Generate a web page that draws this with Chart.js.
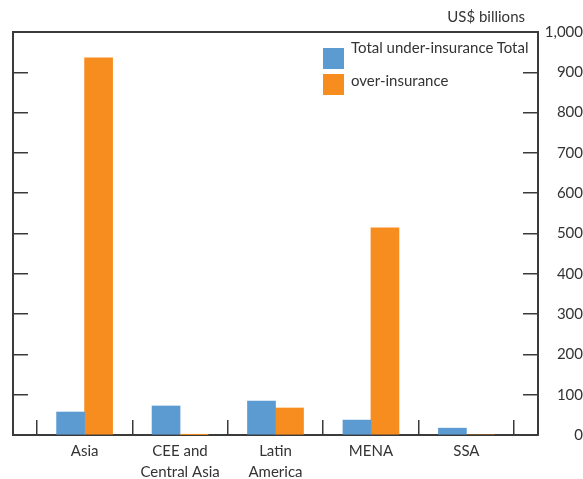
<!DOCTYPE html>
<html>
<head>
<meta charset="utf-8">
<script src="https://cdn.jsdelivr.net/npm/chart.js@4.4.1/dist/chart.umd.min.js"></script>
<style>
    html, body { margin: 0; padding: 0; background: #fff; }
    #wrap { position: relative; width: 583px; height: 479px; font-family: Lato, sans-serif; color: #333; }
    #unit { position: absolute; right: 58px; top: 7px; font-size: 15px; }
    .lg-box { position: absolute; left: 323px; width: 21px; height: 21px; }
    .lg-text { position: absolute; left: 351px; font-size: 15px; line-height: 20px; white-space: nowrap; }
</style>
</head>
<body>
<div id="wrap">
    <canvas id="chart" width="583" height="479"></canvas>
    <div id="unit">US$ billions</div>
    <div id="legend"></div>
</div>
<script>
const categories = [['Asia'], ['CEE and', 'Central Asia'], ['Latin', 'America'], ['MENA'], ['SSA']];
const underInsurance = [57, 72, 84, 37, 17];
const overInsurance = [936, 1, 67, 514, 0];
const seriesNames = ['Total under-insurance Total', 'over-insurance'];
const seriesColors = ['#5b9bd1', '#f78d1e'];
const yTicks = [0, 100, 200, 300, 400, 500, 600, 700, 800, 900, 1000];
// category centres and the separators between them
const xTicks = [-0.5, 0, 0.5, 1, 1.5, 2, 2.5, 3, 3.5, 4, 4.5];

const lineColor = '#3a3a3a';

// legend as html, text sits a bit off the boxes like the original
const legend = document.getElementById('legend');
seriesNames.forEach((name, i) => {
    const box = document.createElement('div');
    box.className = 'lg-box';
    box.style.top = (48 + i * 26) + 'px';
    box.style.background = seriesColors[i];
    legend.appendChild(box);
    const txt = document.createElement('div');
    txt.className = 'lg-text';
    txt.style.top = (37 + i * 33) + 'px';
    txt.textContent = name;
    legend.appendChild(txt);
});

Chart.defaults.font.family = 'Lato, sans-serif';
Chart.defaults.font.size = 15;
Chart.defaults.color = '#333';

const ctx = document.getElementById('chart').getContext('2d');
const chart = new Chart(ctx, {
    type: 'bar',
    data: {
        datasets: [{
            label: seriesNames[0],
            data: underInsurance.map((v, i) => ({ x: i, y: v })),
            backgroundColor: seriesColors[0],
            borderWidth: 0
        }, {
            label: seriesNames[1],
            data: overInsurance.map((v, i) => ({ x: i, y: v })),
            backgroundColor: seriesColors[1],
            borderWidth: 0
        }]
    },
    options: {
        responsive: false,
        animation: false,
        layout: { padding: { left: 13, top: 32, right: 0, bottom: 0 } },
        barThickness: 28,
        plugins: {
            legend: { display: false },
            tooltip: { enabled: false }
        },
        scales: {
            x: {
                type: 'linear',
                position: 'bottom',
                min: -0.75,
                max: 4.75,
                offset: false,
                afterBuildTicks: axis => { axis.ticks = xTicks.map(v => ({ value: v })); },
                afterFit: axis => { axis.height = 44; },
                grid: {
                    offset: false,
                    drawOnChartArea: false,
                    tickLength: -15,
                    lineWidth: 1.5,
                    color: c => (c.tick && Number.isInteger(c.tick.value)) ? 'rgba(0,0,0,0)' : lineColor
                },
                border: { color: lineColor, width: 2 },
                ticks: {
                    autoSkip: false,
                    maxRotation: 0,
                    padding: 20,
                    font: { lineHeight: 1.45 },
                    callback: v => Number.isInteger(v) ? categories[v] : ''
                }
            },
            xTop: {
                type: 'linear',
                position: 'top',
                min: -0.75,
                max: 4.75,
                offset: false,
                afterFit: axis => { axis.height = 0; },
                grid: { display: false, drawTicks: false, offset: false },
                border: { color: lineColor, width: 2 },
                ticks: { display: false }
            },
            y: {
                position: 'right',
                min: 0,
                max: 1000,
                afterBuildTicks: axis => { axis.ticks = yTicks.map(v => ({ value: v })); },
                afterFit: axis => { axis.width = 45; },
                grid: { drawOnChartArea: false, tickLength: -15, lineWidth: 1.5, color: lineColor },
                border: { color: lineColor, width: 2 },
                ticks: {
                    crossAlign: 'far',
                    padding: 23,
                    callback: v => v.toLocaleString('en-US')
                }
            },
            yLeft: {
                position: 'left',
                min: 0,
                max: 1000,
                afterBuildTicks: axis => { axis.ticks = yTicks.map(v => ({ value: v })); },
                afterFit: axis => { axis.width = 0; },
                grid: { drawOnChartArea: false, tickLength: -15, lineWidth: 1.5, color: lineColor },
                border: { color: lineColor, width: 2 },
                ticks: { display: false }
            }
        }
    }
});
</script>
</body>
</html>
